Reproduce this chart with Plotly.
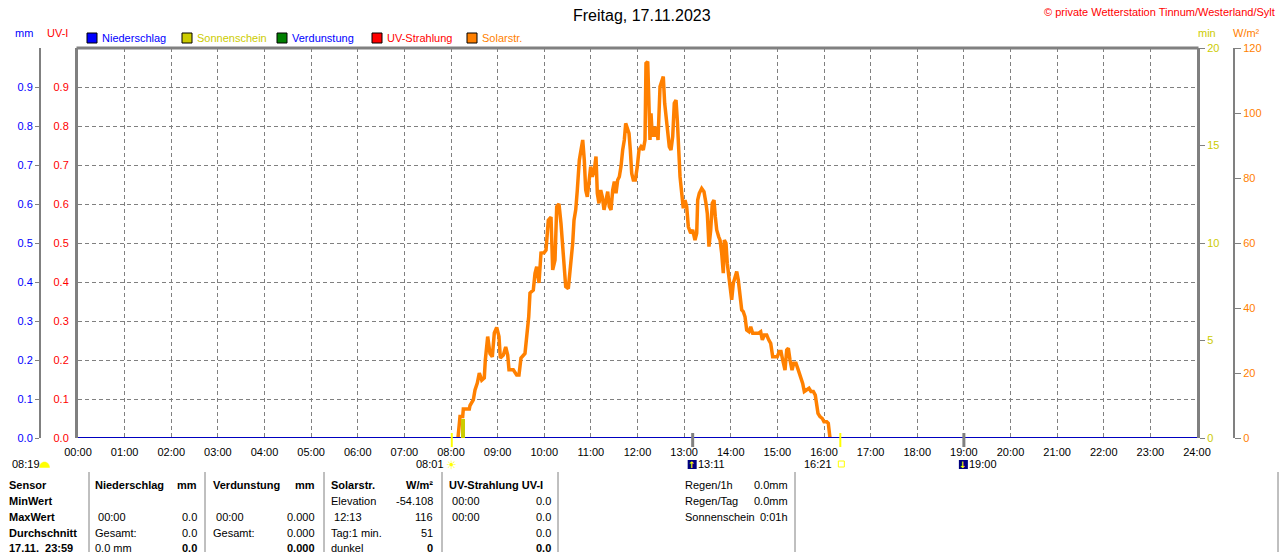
import math
import plotly.graph_objects as go

# ---------------- data ----------------
solar_hours = [8.150, 8.172, 8.193, 8.251, 8.264, 8.393, 8.408, 8.478, 8.515, 8.564, 8.607, 8.659, 8.714, 8.736,
               8.787, 8.836, 8.886, 8.929, 8.980, 9.029, 9.058, 9.122, 9.173, 9.216, 9.244, 9.336, 9.409, 9.458,
               9.501, 9.587, 9.637, 9.667, 9.694, 9.765, 9.802, 9.838, 9.887, 9.930, 9.995, 10.038, 10.087, 10.145,
               10.181, 10.231, 10.267, 10.316, 10.359, 10.396, 10.424, 10.460, 10.516, 10.567, 10.610, 10.638,
               10.675, 10.709, 10.752, 10.788, 10.825, 10.859, 10.889, 10.923, 10.966, 10.996, 11.031, 11.074,
               11.110, 11.138, 11.174, 11.211, 11.245, 11.282, 11.324, 11.361, 11.395, 11.432, 11.468, 11.503,
               11.539, 11.575, 11.610, 11.646, 11.682, 11.717, 11.747, 11.781, 11.818, 11.846, 11.876, 11.910,
               11.953, 11.996, 12.032, 12.075, 12.124, 12.161, 12.182, 12.219, 12.240, 12.268, 12.290, 12.318,
               12.348, 12.375, 12.412, 12.440, 12.483, 12.519, 12.553, 12.583, 12.611, 12.639, 12.682, 12.718,
               12.755, 12.789, 12.826, 12.854, 12.875, 12.912, 12.982, 13.019, 13.055, 13.090, 13.141, 13.184,
               13.233, 13.270, 13.291, 13.325, 13.377, 13.426, 13.469, 13.497, 13.533, 13.570, 13.604, 13.641,
               13.669, 13.699, 13.742, 13.770, 13.806, 13.840, 13.862, 13.898, 13.926, 13.962, 13.999, 14.020,
               14.055, 14.091, 14.128, 14.162, 14.198, 14.235, 14.269, 14.306, 14.342, 14.391, 14.428, 14.471,
               14.520, 14.591, 14.642, 14.677, 14.720, 14.771, 14.814, 14.857, 14.900, 14.949, 14.998, 15.041,
               15.078, 15.114, 15.164, 15.200, 15.235, 15.271, 15.314, 15.350, 15.399, 15.449, 15.500, 15.543,
               15.578, 15.629, 15.678, 15.721, 15.771, 15.813, 15.843, 15.871, 15.914, 15.964, 16.000, 16.058,
               16.092, 16.114, 16.129]
solar_wm2 = [0, 2.5, 6.6, 6.6, 8.9, 8.9, 10, 11.7, 14.8, 16.9, 20, 17.8, 18.5, 24,
             31.2, 26, 25, 32.3, 34, 31.2, 24.6, 25.5, 28, 25.5, 21, 21, 19.4, 19.4,
             24.6, 26, 32.3, 37.3, 44.6, 45.5, 50.7, 52.7, 47.7, 56.9, 57, 57.8, 67, 68,
             51.7, 54.8, 71.2, 72, 66, 58.9, 53.7, 46.6, 46, 52.7, 59.9, 67,
             70.2, 76.3, 85.5, 88.6, 91.7, 85.5, 76.3, 74.2, 80.4, 83.5, 80.4, 82.5,
             86.6, 75.3, 72.2, 76.3, 74.2, 70.2, 73.2, 75.8, 71.2, 70.2, 76.3, 78.9,
             75.3, 79.4, 80.4, 83.5, 88.6, 91.7, 96.8, 94.8, 93.7, 88.6, 81.4, 79.4,
             79.4, 83.5, 88.6, 89.6, 88.6, 91.7, 115.3, 115.8, 99.9, 91.7, 99.9, 92.7,
             95.8, 92.7, 95.8, 91.7, 108.1, 109.6, 111.2, 103, 98.9, 93.7, 89.6, 88.6,
             92.7, 103, 104, 97.8, 88.6, 80.4, 70.7, 73.2, 71.2, 65, 63, 64,
             60.9, 63, 73.2, 75.3, 76.8, 75.8, 72.2, 69.1, 58.9, 64, 72.2, 73.2,
             68.1, 64, 61.9, 60.9, 56.8, 50.7, 60.9, 59.9, 53.7, 49.6, 43.5, 42.5,
             47.6, 49.6, 51.2, 48.6, 43.5, 39.4, 38.9, 37.3, 33.2, 32.7, 34.2, 32.2,
             32.2, 32.2, 32.7, 30.2, 31.7, 31.7, 30.2, 29.1, 25, 25, 25, 26.6,
             26.6, 24, 20.9, 27.1, 27.6, 24, 20.9, 23, 23, 20.9, 18.9, 16.8,
             14.3, 14.8, 15.3, 14.3, 14.3, 13.2, 10.7, 7.6, 6.6, 6.0, 5, 5,
             4.5, 0.9, 0]

day_hours = [0, 24]
rain_mm = [0.0, 0.0]
evap_mm = [0.0, 0.0]
uv_index = [0.0, 0.0]

sunshine_hours = [8.255]
sunshine_min = [1]

x_ticks = list(range(0, 25))
x_labels = ["%02d:00" % h for h in x_ticks]
uv_ticks = [0.0, 0.1, 0.2, 0.3, 0.4, 0.5, 0.6, 0.7, 0.8, 0.9]
mm_ticks = [0.0, 0.1, 0.2, 0.3, 0.4, 0.5, 0.6, 0.7, 0.8, 0.9]
min_ticks = [0, 5, 10, 15, 20]
wm2_ticks = [0, 20, 40, 60, 80, 100, 120]

sunrise, sunset = "08:01", "16:21"
moonrise, moonset = "13:11", "19:00"
day_length = "08:19"

legend_items = [("Niederschlag", "#0000FF", "#0000FF"),
                ("Sonnenschein", "#CCCC00", "#CCCC00"),
                ("Verdunstung", "#008000", "#0000FF"),
                ("UV-Strahlung", "#FF0000", "#FF0000"),
                ("Solarstr.", "#FF8000", "#FF8000")]

sensor_col = ["Sensor", "MinWert", "MaxWert", "Durchschnitt", "17.11.  23:59"]
nied_left = ["<b>Niederschlag</b>", "", " 00:00", "Gesamt:", "0.0 mm"]
nied_right = ["<b>mm</b>", "", "0.0", "0.0", "<b>0.0</b>"]
verd_left = ["<b>Verdunstung</b>", "", " 00:00", "Gesamt:", ""]
verd_right = ["<b>mm</b>", "", "0.000", "0.000", "<b>0.000</b>"]
sol_left = ["<b>Solarstr.</b>", "Elevation", " 12:13", "Tag:1 min.", "dunkel"]
sol_right = ["<b>W/m²</b>", "-54.108", "116", "51", "<b>0</b>"]
uv_left = ["<b>UV-Strahlung UV-I</b>", " 00:00", " 00:00", "", ""]
uv_right = ["", "0.0", "0.0", "0.0", "<b>0.0</b>"]
info_left = ["Regen/1h", "Regen/Tag", "Sonnenschein"]
info_right = ["0.0mm", "0.0mm", "0:01h"]

# ---------------- geometry helpers ----------------
W, H = 1280, 552
L, R, T, B = 10, 10, 48, 114
PW, PH = W - L - R, H - T - B
FONT = "Liberation Sans"
GRAY = "#808080"


def fx(p):
    return (p - L) / PW


def fy(p):
    return (H - B - p) / PH


def hm(s):
    h, m = s.split(":")
    return int(h) + int(m) / 60.0


def txt(x, y, s, color="black", size=11, anchor="left", family=FONT, xref="paper", xshift=0):
    return dict(x=(fx(x) if xref == "paper" else x), y=fy(y), xref=xref, yref="paper", text=s,
                showarrow=False, xanchor=anchor, yanchor="middle", xshift=xshift, borderpad=0,
                font=dict(color=color, size=size, family=family))


fig = go.Figure()

# base axis traces (UV index)
fig.add_trace(go.Scatter(x=day_hours, y=uv_index, mode="lines", line=dict(color="#FF0000", width=2),
                         yaxis="y", hoverinfo="skip"))
# solar radiation
fig.add_trace(go.Scatter(x=solar_hours, y=solar_wm2, mode="lines", line=dict(color="#FF8000", width=3.5),
                         yaxis="y2", hoverinfo="skip"))
# evaporation + rain
fig.add_trace(go.Scatter(x=day_hours, y=evap_mm, mode="lines", line=dict(color="#008000", width=2),
                         yaxis="y3", hoverinfo="skip"))
fig.add_trace(go.Scatter(x=day_hours, y=rain_mm, mode="lines", line=dict(color="#0000C0", width=2),
                         yaxis="y3", hoverinfo="skip"))
# sunshine minutes
fig.add_trace(go.Bar(x=sunshine_hours, y=sunshine_min, width=0.07, marker=dict(color="#CCCC00", line=dict(width=0)),
                     yaxis="y4", hoverinfo="skip"))

xdom = [fx(78), fx(1197)]
axfont = dict(family=FONT, size=11)

fig.update_layout(
    width=W, height=H,
    margin=dict(l=L, r=R, t=T, b=B, autoexpand=False),
    paper_bgcolor="white", plot_bgcolor="white",
    showlegend=False, bargap=0,
    xaxis=dict(domain=xdom, range=[0, 24], tickvals=x_ticks, ticktext=x_labels, showgrid=True,
               gridcolor=GRAY, griddash="4px,3px", gridwidth=1, zeroline=False, showline=False,
               ticks="", ticklabelstandoff=6, tickfont=dict(axfont, color="black"), anchor="y", fixedrange=True),
    yaxis=dict(range=[0, 1], tickvals=uv_ticks, ticktext=["%.1f" % v for v in uv_ticks], showgrid=True,
               gridcolor=GRAY, griddash="4px,3px", gridwidth=1, zeroline=False, showline=True, linewidth=3,
               linecolor=GRAY, ticks="", ticklabelstandoff=4, tickfont=dict(axfont, color="#FF0000"),
               anchor="x", side="left"),
    yaxis2=dict(range=[0, 120], tickvals=wm2_ticks, overlaying="y", anchor="free", position=fx(1234),
                side="right", showgrid=False, zeroline=False, showline=True, linewidth=2, linecolor=GRAY,
                ticks="outside", ticklen=6, tickcolor=GRAY, tickwidth=1, tickfont=dict(axfont, color="#FF8000")),
    yaxis3=dict(range=[0, 1], tickvals=mm_ticks, ticktext=["%.1f" % v for v in mm_ticks], overlaying="y",
                anchor="free", position=fx(40), side="left", showgrid=False, zeroline=False, showline=True,
                linewidth=2, linecolor=GRAY, ticks="outside", ticklen=4, tickcolor=GRAY, tickwidth=1,
                tickfont=dict(axfont, color="#0000FF")),
    yaxis4=dict(range=[0, 20], tickvals=min_ticks, overlaying="y", anchor="x", side="right", showgrid=False,
                zeroline=False, showline=True, linewidth=3, linecolor=GRAY, ticks="outside", ticklen=5,
                tickcolor=GRAY, tickwidth=1, tickfont=dict(axfont, color="#CCCC00")),
)

shapes = []
ann = []

# top frame
shapes.append(dict(type="line", xref="paper", yref="paper", x0=fx(76.5), x1=fx(1198.5), y0=1, y1=1,
                   line=dict(color=GRAY, width=3)))

# sunrise / sunset markers (yellow), moon markers (gray)
for t, col, w in [(sunrise, "#FFFF00", 2), (sunset, "#FFFF00", 2), (moonrise, GRAY, 3), (moonset, GRAY, 3)]:
    shapes.append(dict(type="line", xref="x", yref="paper", x0=hm(t), x1=hm(t), y0=fy(433), y1=fy(447),
                       line=dict(color=col, width=w)))

# title and header texts
ann.append(txt(642, 15, "Freitag, 17.11.2023", size=16, anchor="center"))
ann.append(txt(1276, 12, "© private Wetterstation Tinnum/Westerland/Sylt", color="#FF0000", size=11,
               anchor="right"))
ann.append(txt(14, 33, "mm", color="#0000FF"))
ann.append(txt(46, 33, "UV-I", color="#FF0000"))
ann.append(txt(1197, 33, "min", color="#CCCC00"))
ann.append(txt(1232, 33, "W/m²", color="#FF8000"))

# legend
lx = [87, 182, 277, 372, 467]
for (name, sq, tc), x0 in zip(legend_items, lx):
    shapes.append(dict(type="rect", xref="paper", yref="paper", x0=fx(x0), x1=fx(x0 + 10), y0=fy(33),
                       y1=fy(43), fillcolor=sq, line=dict(color="black", width=1)))
    ann.append(txt(x0 + 14, 38, name, color=tc))

# row below the axis: day length, sun and moon events
ann.append(txt(11, 464, day_length))
ang = [math.pi * i / 16 for i in range(17)]
path = "M " + " L ".join("%f,%f" % (fx(44.5 + 5 * math.cos(a)), fy(467.5 - 5.5 * math.sin(a))) for a in ang) + " Z"
shapes.append(dict(type="path", xref="paper", yref="paper", path=path, fillcolor="#FFFF00",
                   line=dict(color="#FFFF00", width=0.5)))

ann.append(txt(hm(sunrise), 464, sunrise, anchor="right", xref="x", xshift=-7))
ann.append(txt(hm(sunrise), 465, "☀", color="#FFFF00", size=12, anchor="center", xref="x", xshift=0,
               family="DejaVu Sans"))
ann.append(txt(hm(sunset), 464, sunset, anchor="right", xref="x", xshift=-7))
shapes.append(dict(type="rect", xref="x", yref="paper", xsizemode="pixel", xanchor=hm(sunset), x0=-2, x1=4,
                   y0=fy(467), y1=fy(461), line=dict(color="#FFFF00", width=1), fillcolor="rgba(0,0,0,0)"))
for t, arrow in [(moonrise, "↑"), (moonset, "↓")]:
    shapes.append(dict(type="rect", xref="x", yref="paper", xsizemode="pixel", xanchor=hm(t), x0=-5, x1=4,
                       y0=fy(469), y1=fy(460), line=dict(width=0), fillcolor="#000080"))
    ann.append(txt(hm(t), 465, "<b>%s</b>" % arrow, color="#FFFF00", size=9, anchor="center", xref="x",
                   xshift=-0.5, family="DejaVu Sans"))
    ann.append(txt(hm(t), 464, t, anchor="left", xref="x", xshift=4))

# table
rows_y = [485, 501, 517, 533, 548]
for y, s in zip(rows_y, sensor_col):
    ann.append(txt(8, y, "<b>%s</b>" % s))
cols = [(nied_left, nied_right, 94, 198), (verd_left, verd_right, 212, 316), (sol_left, sol_right, 330, 434),
        (uv_left, uv_right, 448, 552)]
for left, right, xl, xr in cols:
    for y, s in zip(rows_y, left):
        if s:
            ann.append(txt(xl, y, s))
    for y, s in zip(rows_y, right):
        if s:
            ann.append(txt(xr, y, s, anchor="right"))
for y, s1, s2 in zip(rows_y, info_left, info_right):
    ann.append(txt(684, y, s1))
    ann.append(txt(789, y, s2, anchor="right"))
for xs in [89, 205, 324, 442, 558, 795, 1278]:
    shapes.append(dict(type="line", xref="paper", yref="paper", x0=fx(xs), x1=fx(xs), y0=fy(472), y1=fy(560),
                       line=dict(color=GRAY, width=1)))

fig.update_layout(shapes=shapes, annotations=ann)
fig.write_html("out.html", config={"displayModeBar": False, "staticPlot": True},
               post_script="document.body.style.margin='0px';document.body.style.overflow='hidden';")
